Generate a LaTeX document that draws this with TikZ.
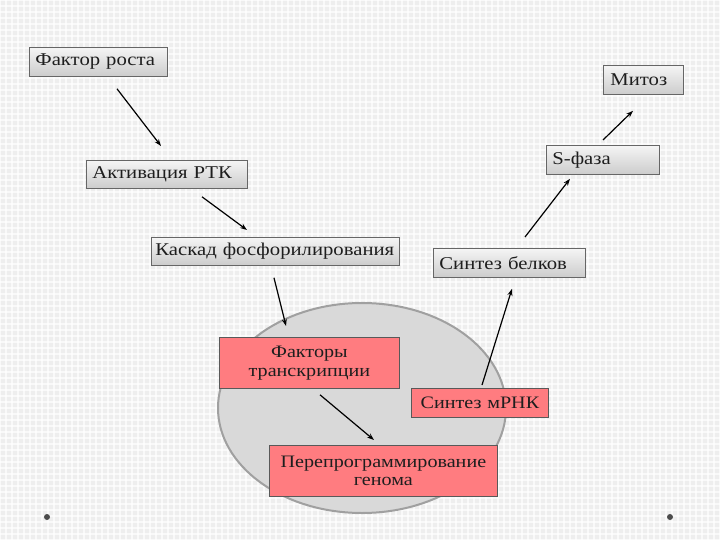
\documentclass[tikz,border=0pt]{standalone}
\usepackage{fontspec}
\setmainfont{Liberation Serif}[FakeStretch=1.15]
\usetikzlibrary{shapes.geometric,arrows.meta,calc}
\definecolor{bg}{RGB}{238,238,238}
\definecolor{salmon}{RGB}{255,124,128}
\definecolor{cellfill}{RGB}{217,217,217}
\definecolor{cellline}{RGB}{160,160,160}
\definecolor{txt}{RGB}{30,30,30}
\tikzset{
  greybox/.style={draw=gray!80!black, line width=0.8pt, top color=white!96!black, bottom color=white!80!black,
    anchor=north west, align=left, inner sep=0pt, font=\fontsize{18}{20}\selectfont, text=txt},
  redbox/.style={draw=gray!70!black, line width=0.8pt, fill=salmon, anchor=north west, align=center,
    inner sep=0pt, font=\fontsize{17.5}{18.5}\selectfont, text=txt},
  arr/.style={line width=1.2pt, -{Stealth[length=7pt,width=5pt]}}
}
\begin{document}
\begin{tikzpicture}[x=1pt,y=-1pt]
\useasboundingbox (0,0) rectangle (720,540);
\fill[bg] (0,0) rectangle (720,540);
\foreach \i in {0,6,...,720} \draw[white, line width=1.6pt, opacity=0.7] (\i,0) -- (\i,540);
\foreach \j in {0,6,...,540} \draw[white, line width=1.6pt, opacity=0.7] (0,\j) -- (720,\j);
\fill[gray!60!black] (47,517) circle (3);
\fill[gray!60!black] (670,517) circle (3);
% cell
\node[ellipse, draw=cellline, line width=2pt, fill=cellfill, minimum width=288, minimum height=210, inner sep=0pt] (cell) at (362,408) {};
% grey boxes
\node[greybox, minimum width=138, minimum height=29, text width=138] (fr) at (29,47) {\hspace*{6pt}Фактор роста};
\node[greybox, minimum width=80, minimum height=29, text width=80] (mt) at (603,65) {\hspace*{7pt}Митоз};
\node[greybox, minimum width=113, minimum height=29, text width=113] (sf) at (546,145) {\hspace*{6pt}S-фаза};
\node[greybox, minimum width=161, minimum height=28, text width=161] (ak) at (86,160) {\hspace*{6pt}Активация РТК};
\node[greybox, minimum width=248, minimum height=28, text width=248] (ks) at (151,237) {\hspace*{4pt}Каскад фосфорилирования};
\node[greybox, minimum width=152, minimum height=29, text width=152] (sb) at (433,248) {\hspace*{6pt}Синтез белков};
% red boxes
\node[redbox, minimum width=180, minimum height=51, text width=180] (ft) at (219,337) {Факторы\\транскрипции};
\node[redbox, minimum width=137, minimum height=29, text width=137] (mr) at (411,388) {Синтез мРНК};
\node[redbox, minimum width=228, minimum height=51, text width=228] (pg) at (269,445) {Перепрограммирование\\генома};
% arrows
\draw[arr] ([shift={(88,12)}]fr.south west) -- ([shift={(75,-14)}]ak.north west);
\draw[arr] ([shift={(116,8)}]ak.south west) -- ([shift={(96,-7)}]ks.north west);
\draw[arr] ([shift={(123,12)}]ks.south west) -- ([shift={(67,-11)}]ft.north west);
\draw[arr] ([shift={(101,6)}]ft.south west) -- ([shift={(105,-5)}]pg.north west);
\draw[arr] ([shift={(71,-3)}]mr.north west) -- ([shift={(79,11)}]sb.south west);
\draw[arr] ([shift={(92,-11)}]sb.north west) -- ([shift={(24,4)}]sf.south west);
\draw[arr] ([shift={(57,-5)}]sf.north west) -- ([shift={(30,16)}]mt.south west);
\end{tikzpicture}
\end{document}
